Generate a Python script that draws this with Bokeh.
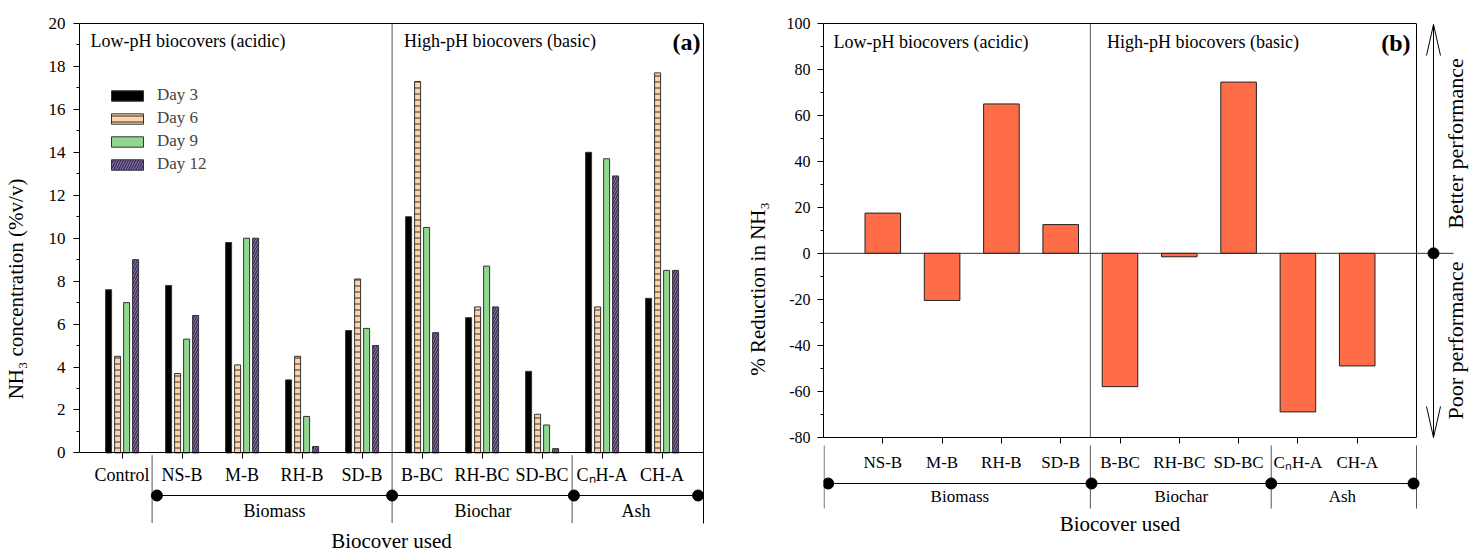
from bokeh.plotting import figure
from bokeh.models import Range1d, LinearAxis, FixedTicker, ColumnDataSource, Legend, LegendItem
from bokeh.transform import dodge
from bokeh.layouts import row
from bokeh.embed import file_html
from bokeh.resources import INLINE
from bokeh.core.properties import value

FONT = "Liberation Serif"

# ---------------- data ----------------
categories_a = ["Control", "NS-B", "M-B", "RH-B", "SD-B", "B-BC", "RH-BC", "SD-BC", "CₙH-A", "CH-A"]
days = ["Day 3", "Day 6", "Day 9", "Day 12"]
day3 = [7.6, 7.8, 9.8, 3.4, 5.7, 11.0, 6.3, 3.8, 14.0, 7.2]
day6 = [4.5, 3.7, 4.1, 4.5, 8.1, 17.3, 6.8, 1.8, 6.8, 17.7]
day9 = [7.0, 5.3, 10.0, 1.7, 5.8, 10.5, 8.7, 1.3, 13.7, 8.5]
day12 = [9.0, 6.4, 10.0, 0.3, 5.0, 5.6, 6.8, 0.2, 12.9, 8.5]

categories_b = ["NS-B", "M-B", "RH-B", "SD-B", "B-BC", "RH-BC", "SD-BC", "CₙH-A", "CH-A"]
reduction = [17.5, -20.5, 65.0, 12.5, -58.0, -1.5, 74.5, -69.0, -49.0]

groups = ["Biomass", "Biochar", "Ash"]
yticks_a = list(range(0, 21, 2))
yticks_b = list(range(-80, 101, 20))

# ---------------- layout constants ----------------
H = 554
W_A, W_B = 730, 752
XA = (-0.71, 9.69)
UXA = 60.0
UYA = (450.7 - 14) / 20.0
YA0 = -(H - 450.7) / UYA


def ya(px):
    return 20 - (px - 14) / UYA


def xa(px):
    return XA[0] + (px - 79) / UXA


UXB = 59.3
XB1 = -1 + (W_B - 93) / UXB
UYB = (436.7 - 23) / 180.0
YB0 = -80 - (H - 436.7) / UYB


def yb(px):
    return 100 - (px - 23) / UYB


def xb(px):
    return -1 + (px - 823) / UXB


def style_axis(ax, size="17px"):
    ax.axis_line_color = "black"
    ax.axis_line_width = 1
    ax.major_tick_line_color = "black"
    ax.minor_tick_line_color = "black"
    ax.major_tick_in = 0
    ax.minor_tick_in = 0
    ax.major_label_text_font = FONT
    ax.major_label_text_font_size = size
    ax.major_label_text_color = "black"
    ax.axis_label_text_font = FONT
    ax.axis_label_text_font_style = "normal"
    ax.axis_label_text_color = "black"


def border_axis(**kw):
    ax = LinearAxis(ticker=FixedTicker(ticks=[]), major_label_text_font_size="0px",
                    major_tick_line_color=None, minor_tick_line_color=None,
                    axis_line_color="black", **kw)
    return ax


# ================= Panel (a) =================
pa = figure(width=W_A, height=H, x_range=Range1d(*XA), y_range=Range1d(YA0, 20),
            output_backend="svg", toolbar_location=None, x_axis_type=None, y_axis_type=None,
            min_border_left=79, min_border_right=27, min_border_top=14, min_border_bottom=0,
            outline_line_color=None, background_fill_color="white", border_fill_color="white")

src_a = ColumnDataSource(dict(idx=list(range(len(categories_a))), d3=day3, d6=day6, d9=day9, d12=day12))
bar_specs = [
    ("d3", -0.225, "black", {}),
    ("d6", -0.075, "#FDD5AC", dict(hatch_pattern="horizontal_line", hatch_color="#3a2a20", hatch_scale=6, hatch_weight=1)),
    ("d9", 0.075, "#90D890", {}),
    ("d12", 0.225, "#8566B8", dict(hatch_pattern="right_diagonal_line", hatch_color="#222222", hatch_scale=5, hatch_weight=1)),
]
rends = []
for key, off, fill, hatch in bar_specs:
    r = pa.vbar(x=dodge("idx", off, range=pa.x_range), top=key, bottom=0, width=0.1, source=src_a,
                fill_color=fill, line_color="#333333", line_width=1, **hatch)
    rends.append(r)

legend = Legend(items=[LegendItem(label=d, renderers=[r]) for d, r in zip(days, rends)],
                location=(28, 380), padding=0, margin=0, border_line_color=None,
                background_fill_alpha=0, glyph_width=40, glyph_height=13, label_height=20,
                spacing=3, label_standoff=10, label_text_font=FONT, label_text_font_size="17px")
pa.add_layout(legend)

yax_a = LinearAxis(bounds=(0, 20), ticker=FixedTicker(ticks=yticks_a, minor_ticks=list(range(1, 20, 2))),
                   axis_label="NH₃ concentration (%v/v)")
style_axis(yax_a, "17px")
yax_a.major_tick_out = 6
yax_a.minor_tick_out = 3
yax_a.major_label_standoff = 8
yax_a.axis_label_standoff = 18
yax_a.axis_label_text_font_size = "21px"
yax_a.major_label_overrides = {v: str(v) for v in yticks_a}
pa.add_layout(yax_a, "left")

xax_a = LinearAxis(fixed_location=0, ticker=FixedTicker(ticks=list(range(len(categories_a)))),
                   axis_label="Biocover used")
style_axis(xax_a, "18px")
xax_a.major_tick_out = 6
xax_a.major_label_standoff = 6
xax_a.axis_label_standoff = 41
xax_a.axis_label_text_font_size = "21px"
xax_a.major_label_overrides = {i: c for i, c in enumerate(categories_a)}
pa.add_layout(xax_a, "below")

pa.add_layout(border_axis(), "above")
pa.add_layout(border_axis(bounds=(ya(522), 20)), "right")

bounds_a = [0.5, 4.5, 7.5, XA[1]]
# divider between acidic and basic
pa.segment(x0=[bounds_a[1]], y0=[ya(522)], x1=[bounds_a[1]], y1=[20], line_color="#555555", line_width=1)
pa.segment(x0=[bounds_a[0], bounds_a[2]], y0=[ya(453)] * 2, x1=[bounds_a[0], bounds_a[2]], y1=[ya(522)] * 2,
           line_color="#555555", line_width=1)
dots_a = [bounds_a[0] + 0.08, bounds_a[1], bounds_a[2] + 0.03, bounds_a[3] - 0.09]
pa.line(x=dots_a, y=[ya(494)] * 4, line_color="black", line_width=1)
pa.scatter(x=dots_a, y=[ya(494)] * 4, size=11, color="black")
mids_a = [(dots_a[i] + dots_a[i + 1]) / 2 for i in range(3)]
pa.text(x=mids_a, y=[ya(510)] * 3, text=groups, text_align="center", text_baseline="middle",
        text_font=value(FONT), text_font_size="18px", text_color="black")

pa.text(x=[xa(90), bounds_a[1] + 0.2], y=[ya(32)] * 2,
        text=["Low-pH biocovers (acidic)", "High-pH biocovers (basic)"],
        text_align="left", text_baseline="middle", text_font=value(FONT), text_font_size="18px",
        text_color="black")
pa.text(x=[xa(700)], y=[ya(33)], text=["(a)"], text_align="right", text_baseline="middle",
        text_font=value(FONT), text_font_size="24px", text_font_style="bold", text_color="black")

# ================= Panel (b) =================
pb = figure(width=W_B, height=H, x_range=Range1d(-1, XB1), y_range=Range1d(YB0, 100),
            output_backend="svg", toolbar_location=None, x_axis_type=None, y_axis_type=None,
            min_border_left=93, min_border_right=0, min_border_top=23, min_border_bottom=0,
            outline_line_color=None, background_fill_color="white", border_fill_color="white")

src_b = ColumnDataSource(dict(idx=list(range(len(categories_b))), red=reduction))
pb.vbar(x="idx", top="red", bottom=0, width=0.6, source=src_b, fill_color="#FF6C48",
        line_color="#222222", line_width=1)

yax_b = LinearAxis(bounds=(-80, 100), ticker=FixedTicker(ticks=yticks_b, minor_ticks=list(range(-70, 100, 20))),
                   axis_label="% Reduction in NH₃")
style_axis(yax_b, "16px")
yax_b.major_tick_out = 6
yax_b.minor_tick_out = 3
yax_b.major_label_standoff = 7
yax_b.axis_label_standoff = 14
yax_b.axis_label_text_font_size = "21px"
yax_b.major_label_overrides = {v: str(v) for v in yticks_b}
pb.add_layout(yax_b, "left")

xax_b = LinearAxis(fixed_location=-80, bounds=(-1, 9),
                   ticker=FixedTicker(ticks=list(range(len(categories_b)))), axis_label="Biocover used")
style_axis(xax_b, "17px")
xax_b.major_tick_out = 6
xax_b.major_label_standoff = 10
xax_b.axis_label_standoff = 36
xax_b.axis_label_text_font_size = "21px"
xax_b.major_label_overrides = {i: c for i, c in enumerate(categories_b)}
pb.add_layout(xax_b, "below")

pb.add_layout(border_axis(bounds=(-1, 9)), "above")

bounds_b = [-1.0, 3.5, 6.55, 9.0]
# right border and divider
pb.segment(x0=[9.0], y0=[-80], x1=[9.0], y1=[100], line_color="black", line_width=1)
pb.segment(x0=[bounds_b[1]], y0=[-80], x1=[bounds_b[1]], y1=[100], line_color="#555555", line_width=1)
# zero line extending to the performance arrow
pb.segment(x0=[-1], y0=[0], x1=[xb(1453)], y1=[0], line_color="#333333", line_width=1)
# lower group separators
low_x = [bounds_b[0] + 0.01, bounds_b[1], bounds_b[2], bounds_b[3]]
pb.segment(x0=low_x, y0=[yb(445)] * 4, x1=low_x, y1=[yb(508)] * 4, line_color="#555555", line_width=1)
dots_b = [bounds_b[0] + 0.08, bounds_b[1] + 0.02, bounds_b[2], bounds_b[3] - 0.05]
pb.line(x=dots_b, y=[yb(483)] * 4, line_color="black", line_width=1)
pb.scatter(x=dots_b, y=[yb(483)] * 4, size=11, color="black")
mids_b = [(dots_b[i] + dots_b[i + 1]) / 2 for i in range(3)]
pb.text(x=mids_b, y=[yb(496)] * 3, text=groups, text_align="center", text_baseline="middle",
        text_font=value(FONT), text_font_size="17px", text_color="black")

pb.text(x=[xb(833), bounds_b[1] + 0.28], y=[yb(41)] * 2,
        text=["Low-pH biocovers (acidic)", "High-pH biocovers (basic)"],
        text_align="left", text_baseline="middle", text_font=value(FONT), text_font_size="18px",
        text_color="black")
pb.text(x=[xb(1410)], y=[yb(42)], text=["(b)"], text_align="right", text_baseline="middle",
        text_font=value(FONT), text_font_size="24px", text_font_style="bold", text_color="black")

# performance arrow
ax_x = xb(1433)
pb.segment(x0=[ax_x], y0=[yb(437)], x1=[ax_x], y1=[yb(24)], line_color="black", line_width=1)
dx = 7 / UXB
pb.line(x=[ax_x - dx, ax_x, ax_x + dx], y=[yb(55), yb(24), yb(55)], line_color="black", line_width=1)
pb.line(x=[ax_x - dx, ax_x, ax_x + dx], y=[yb(406), yb(437), yb(406)], line_color="black", line_width=1)
pb.scatter(x=[ax_x], y=[0], size=11, color="black")
pb.text(x=[xb(1455)] * 2, y=[yb(143), yb(340)], text=["Better performance", "Poor performance"],
        angle=1.5707963, text_align="center", text_baseline="middle", text_font=value(FONT),
        text_font_size="22px", text_color="black")

layout = row(pa, pb, spacing=0)
open("out.html", "w").write(file_html(layout, INLINE))
